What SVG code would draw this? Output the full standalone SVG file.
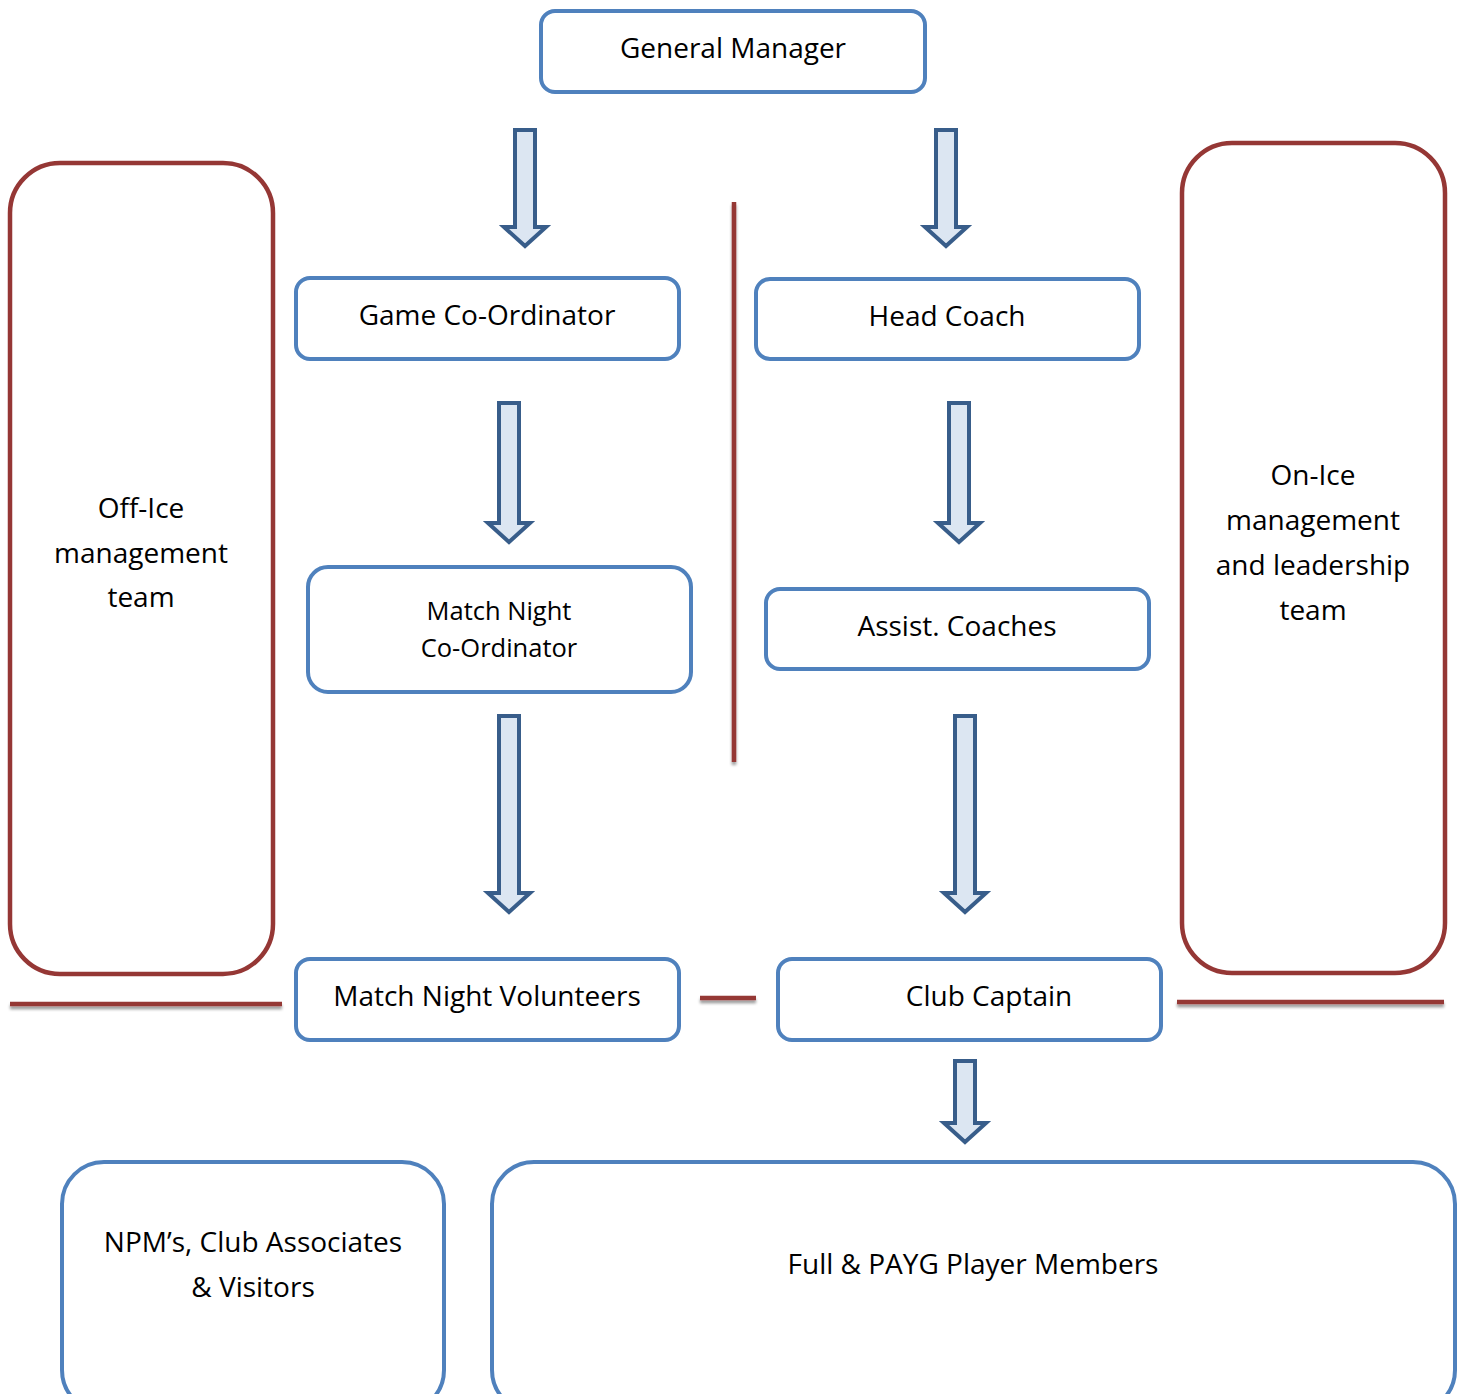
<svg xmlns="http://www.w3.org/2000/svg" width="1460" height="1394" viewBox="0 0 1460 1394">
<defs>
<style>
.box{fill:#fff;stroke:#4F81BD;stroke-width:4}
.team{fill:#fff;stroke:#953735;stroke-width:4.5}
.arr{fill:#DCE6F2;stroke:#385D8A;stroke-width:4;stroke-linejoin:miter}
.sep{stroke:#953735;stroke-width:4.5;fill:none}
text{font-family:"Open Sans","Noto Sans","DejaVu Sans",sans-serif;font-size:28px;fill:#000;text-anchor:middle}
</style>
<filter id="sh" filterUnits="userSpaceOnUse" x="0" y="0" width="1460" height="1394">
<feGaussianBlur in="SourceAlpha" stdDeviation="1.5"/>
<feOffset dx="0" dy="3" result="b"/>
<feComponentTransfer><feFuncA type="linear" slope="0.4"/></feComponentTransfer>
<feMerge><feMergeNode/><feMergeNode in="SourceGraphic"/></feMerge>
</filter>
</defs>
<rect width="1460" height="1394" fill="#fff"/>
<g id="connectors">
<path class="arr" d="M515,130 H535 V227 H546 L525,246 L504,227 H515 Z"/>
<path class="arr" d="M936,130 H956 V227 H967 L946,246 L925,227 H936 Z"/>
<path class="arr" d="M499,403 H519 V523 H530 L509,542 L488,523 H499 Z"/>
<path class="arr" d="M949,403 H969 V523 H980 L959,542 L938,523 H949 Z"/>
<path class="arr" d="M499,716 H519 V893 H530 L509,912 L488,893 H499 Z"/>
<path class="arr" d="M955,716 H975 V893 H986 L965,912 L944,893 H955 Z"/>
<path class="arr" d="M955,1061 H975 V1123 H986 L965,1142 L944,1123 H955 Z"/>
<g filter="url(#sh)">
<line class="sep" x1="734" y1="202" x2="734" y2="762"/>
<line class="sep" x1="10" y1="1004" x2="282" y2="1004"/>
<line class="sep" x1="700" y1="998" x2="756" y2="998"/>
<line class="sep" x1="1177" y1="1002" x2="1444" y2="1002"/>
</g>
</g>
<g id="general-manager"><rect class="box" x="541" y="11" width="384" height="81" rx="14"/><text x="733" y="58">General Manager</text></g>
<g id="game-coordinator"><rect class="box" x="296" y="278" width="383" height="81" rx="14"/><text x="487" y="325">Game Co-Ordinator</text></g>
<g id="head-coach"><rect class="box" x="756" y="279" width="383" height="80" rx="14"/><text x="947" y="326">Head Coach</text></g>
<g id="match-night-coordinator"><rect class="box" x="308" y="567" width="383" height="125" rx="20"/><text x="499" y="620" style="font-size:25.5px">Match Night</text><text x="499" y="657" style="font-size:25.5px">Co-Ordinator</text></g>
<g id="assist-coaches"><rect class="box" x="766" y="589" width="383" height="80" rx="14"/><text x="957" y="636">Assist. Coaches</text></g>
<g id="match-night-volunteers"><rect class="box" x="296" y="959" width="383" height="81" rx="14"/><text x="487" y="1006">Match Night Volunteers</text></g>
<g id="club-captain"><rect class="box" x="778" y="959" width="383" height="81" rx="14"/><text x="989" y="1006">Club Captain</text></g>
<g id="off-ice"><rect class="team" x="10" y="163" width="263" height="811" rx="50"/><text x="141" y="518">Off-Ice</text><text x="141" y="563">management</text><text x="141" y="607">team</text></g>
<g id="on-ice"><rect class="team" x="1182" y="143" width="263" height="830" rx="50"/><text x="1313" y="485">On-Ice</text><text x="1313" y="530">management</text><text x="1313" y="575">and leadership</text><text x="1313" y="620">team</text></g>
<g id="npm"><rect class="box" x="62" y="1162" width="382" height="250" rx="42"/><text x="253" y="1252">NPM’s, Club Associates</text><text x="253" y="1297">&amp; Visitors</text></g>
<g id="players"><rect class="box" x="492" y="1162" width="963" height="250" rx="42"/><text x="973" y="1274">Full &amp; PAYG Player Members</text></g>
</svg>
